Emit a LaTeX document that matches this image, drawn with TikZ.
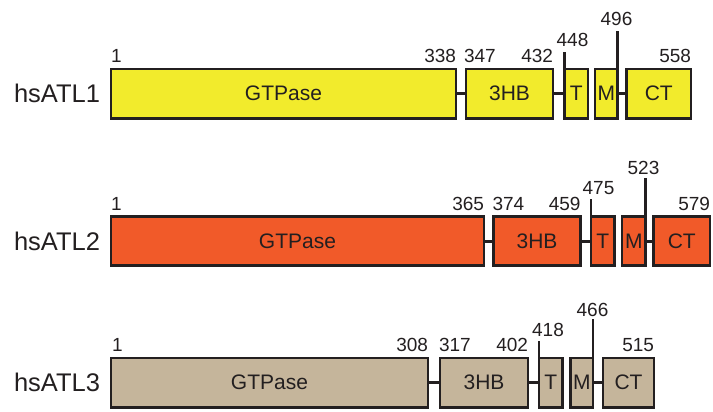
\documentclass[tikz,border=0pt]{standalone}
\usepackage{fontspec}
\setmainfont{Liberation Sans}
\usepackage{tikz}
\usetikzlibrary{positioning}
\definecolor{inkgray}{HTML}{231F20}
\definecolor{atlyellow}{HTML}{F2EB2C}
\definecolor{atlorange}{HTML}{F15A29}
\definecolor{atltan}{HTML}{C5B59B}

\begin{document}
\begin{tikzpicture}[x=1pt, y=1pt, every node/.style={inner sep=0pt, outer sep=0pt, text=inkgray}]

    % Styles for the domain maps
    \tikzset{
        domainbox/.style={draw=inkgray, line width=2.8pt, minimum height=49.5pt, font=\fontsize{21}{23}\selectfont},
        linker/.style={draw=inkgray, line width=2.8pt},
        siteline/.style={draw=inkgray, line width=2.8pt},
        resnum/.style={font=\fontsize{19}{21}\selectfont},
        protname/.style={font=\fontsize{25.5}{28}\selectfont}
    }

    \useasboundingbox (0,0) rectangle (713,412);

    % hsATL1
    \node[domainbox, fill=atlyellow, minimum width=345pt, anchor=north west] (gtp1) at (111,343) {GTPase};
    \node[domainbox, fill=atlyellow, minimum width=87pt, right=10pt of gtp1] (hb1) {3HB};
    \node[domainbox, fill=atlyellow, minimum width=23.5pt, right=11.5pt of hb1] (t1) {T};
    \node[domainbox, fill=atlyellow, minimum width=22.5pt, right=7pt of t1] (m1) {M};
    \node[domainbox, fill=atlyellow, minimum width=64.5pt, right=9pt of m1] (ct1) {CT};
    \node[protname, left=11pt of gtp1] (name1) {hsATL1};

    \draw[linker] (gtp1) -- (hb1);
    \draw[linker] (hb1) -- (t1);
    \draw[linker] (m1) -- (ct1);

    \coordinate (s1a) at ([yshift=16.5pt]t1.north west);
    \coordinate (s1b) at ([yshift=37.5pt]m1.north east);
    \draw[siteline] (t1.north west) -- (s1a);
    \draw[siteline] (m1.north east) -- (s1b);

    \node[resnum, anchor=base west] (r1a) at ([yshift=6pt]gtp1.north west) {1};
    \node[resnum, anchor=base east] (r1b) at ([yshift=6pt]gtp1.north east) {338};
    \node[resnum, anchor=base west] (r1c) at ([shift={(-2,6)}]hb1.north west) {347};
    \node[resnum, anchor=base east] (r1d) at ([yshift=6pt]hb1.north east) {432};
    \node[resnum, anchor=base] (r1e) at ([shift={(8,6)}]s1a) {448};
    \node[resnum, anchor=base] (r1f) at ([shift={(-1,6)}]s1b) {496};
    \node[resnum, anchor=base east] (r1g) at ([yshift=6pt]ct1.north east) {558};

    % hsATL2
    \node[domainbox, fill=atlorange, minimum width=373pt, anchor=north west] (gtp2) at (111,195.6) {GTPase};
    \node[domainbox, fill=atlorange, minimum width=87pt, right=9.5pt of gtp2] (hb2) {3HB};
    \node[domainbox, fill=atlorange, minimum width=23.5pt, right=10.5pt of hb2] (t2) {T};
    \node[domainbox, fill=atlorange, minimum width=23.5pt, right=7.5pt of t2] (m2) {M};
    \node[domainbox, fill=atlorange, minimum width=56.5pt, right=8pt of m2] (ct2) {CT};
    \node[protname, left=11pt of gtp2] (name2) {hsATL2};

    \draw[linker] (gtp2) -- (hb2);
    \draw[linker] (hb2) -- (t2);
    \draw[linker] (m2) -- (ct2);

    \coordinate (s2a) at ([yshift=17pt]t2.north west);
    \coordinate (s2b) at ([yshift=38pt]m2.north east);
    \draw[siteline] (t2.north west) -- (s2a);
    \draw[siteline] (m2.north east) -- (s2b);

    \node[resnum, anchor=base west] (r2a) at ([yshift=6pt]gtp2.north west) {1};
    \node[resnum, anchor=base east] (r2b) at ([yshift=6pt]gtp2.north east) {365};
    \node[resnum, anchor=base west] (r2c) at ([shift={(-1,6)}]hb2.north west) {374};
    \node[resnum, anchor=base east] (r2d) at ([yshift=6pt]hb2.north east) {459};
    \node[resnum, anchor=base] (r2e) at ([shift={(7.5,4.5)}]s2a) {475};
    \node[resnum, anchor=base] (r2f) at ([shift={(-2,4)}]s2b) {523};
    \node[resnum, anchor=base east] (r2g) at ([yshift=6pt]ct2.north east) {579};

    % hsATL3
    \node[domainbox, fill=atltan, minimum width=317pt, anchor=north west] (gtp3) at (111,54) {GTPase};
    \node[domainbox, fill=atltan, minimum width=88pt, right=12pt of gtp3] (hb3) {3HB};
    \node[domainbox, fill=atltan, minimum width=23.5pt, right=11pt of hb3] (t3) {T};
    \node[domainbox, fill=atltan, minimum width=22.5pt, right=8pt of t3] (m3) {M};
    \node[domainbox, fill=atltan, minimum width=51pt, right=10pt of m3] (ct3) {CT};
    \node[protname, left=11pt of gtp3] (name3) {hsATL3};

    \draw[linker] (gtp3) -- (hb3);
    \draw[linker] (hb3) -- (t3);
    \draw[linker] (m3) -- (ct3);

    \coordinate (s3a) at ([yshift=17pt]t3.north west);
    \coordinate (s3b) at ([yshift=38.5pt]m3.north east);
    \draw[siteline] (t3.north west) -- (s3a);
    \draw[siteline] (m3.north east) -- (s3b);

    \node[resnum, anchor=base west] (r3a) at ([shift={(1,6)}]gtp3.north west) {1};
    \node[resnum, anchor=base east] (r3b) at ([yshift=6pt]gtp3.north east) {308};
    \node[resnum, anchor=base west] (r3c) at ([shift={(-1,6)}]hb3.north west) {317};
    \node[resnum, anchor=base east] (r3d) at ([yshift=6pt]hb3.north east) {402};
    \node[resnum, anchor=base] (r3e) at ([shift={(9,4)}]s3a) {418};
    \node[resnum, anchor=base] (r3f) at ([shift={(-0.5,2.5)}]s3b) {466};
    \node[resnum, anchor=base east] (r3g) at ([yshift=6pt]ct3.north east) {515};

\end{tikzpicture}
\end{document}
